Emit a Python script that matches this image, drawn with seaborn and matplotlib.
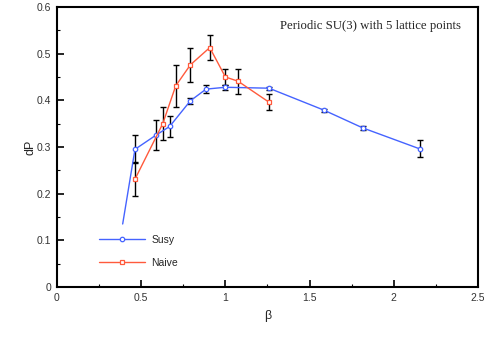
import matplotlib
matplotlib.use("Agg")
import matplotlib.pyplot as plt
import pandas as pd
import seaborn as sns
from matplotlib.ticker import MultipleLocator

# Susy series (first point has no marker / error bar)
susy_beta = [0.39, 0.463, 0.586, 0.669, 0.792, 0.885, 1.0, 1.259, 1.585, 1.815, 2.154]
susy_dp = [0.135, 0.295, 0.325, 0.344, 0.399, 0.424, 0.428, 0.426, 0.379, 0.341, 0.296]
susy_err = [0.0, 0.030, 0.032, 0.023, 0.007, 0.008, 0.005, 0.003, 0.003, 0.004, 0.018]

# Naive series
naive_beta = [0.463, 0.628, 0.705, 0.792, 0.907, 1.0, 1.075, 1.259]
naive_dp = [0.231, 0.350, 0.431, 0.476, 0.513, 0.450, 0.441, 0.396]
naive_err = [0.036, 0.036, 0.045, 0.036, 0.027, 0.018, 0.027, 0.017]

x_ticks = [0, 0.5, 1, 1.5, 2, 2.5]
x_labels = ["0", "0.5", "1", "1.5", "2", "2.5"]
y_ticks = [0, 0.1, 0.2, 0.3, 0.4, 0.5, 0.6]
y_labels = ["0", "0.1", "0.2", "0.3", "0.4", "0.5", "0.6"]

blue = "#4563ff"
red = "#ff5a3c"

sns.set_style("ticks")
plt.rcParams["font.family"] = ["Liberation Sans", "DejaVu Sans"]

fig = plt.figure(figsize=(4.85, 3.46), dpi=100)
ax = fig.add_axes([57 / 485, 1 - 287 / 346, 421 / 485, 280 / 346])

susy = pd.DataFrame({"beta": susy_beta, "dP": susy_dp})
naive = pd.DataFrame({"beta": naive_beta, "dP": naive_dp})

# error bars first, under the lines
ax.errorbar(susy_beta[1:], susy_dp[1:], yerr=susy_err[1:], fmt="none",
            ecolor="black", elinewidth=1, capsize=2, capthick=1, zorder=1)
ax.errorbar(naive_beta, naive_dp, yerr=naive_err, fmt="none",
            ecolor="black", elinewidth=1, capsize=2, capthick=1, zorder=1)

sns.lineplot(data=susy, x="beta", y="dP", ax=ax, color=blue, lw=1,
             marker="o", markersize=3.2, markerfacecolor="white",
             markeredgecolor=blue, markeredgewidth=0.9,
             markevery=list(range(1, len(susy_beta))), label="Susy",
             sort=False, zorder=2)
sns.lineplot(data=naive, x="beta", y="dP", ax=ax, color=red, lw=1,
             marker="s", markersize=3.2, markerfacecolor="white",
             markeredgecolor=red, markeredgewidth=0.9, label="Naive",
             sort=False, zorder=3)

ax.set_xlim(0, 2.5)
ax.set_ylim(0, 0.6)
ax.set_xticks(x_ticks, x_labels)
ax.set_yticks(y_ticks, y_labels)
ax.xaxis.set_minor_locator(MultipleLocator(0.25))
ax.yaxis.set_minor_locator(MultipleLocator(0.05))
ax.tick_params(which="both", direction="in", labelsize=7.5, width=1.2,
               pad=4, colors="black", labelcolor="#333333")
ax.tick_params(which="major", length=5)
ax.tick_params(which="minor", length=2.5, width=0.8)
for s in ax.spines.values():
    s.set_linewidth(1.5)
    s.set_color("black")

ax.set_xlabel("β", fontsize=9, labelpad=5)
ax.set_ylabel("dP", fontsize=9, labelpad=0)

ax.text(0.96, 0.933, "Periodic SU(3) with 5 lattice points",
        transform=ax.transAxes, ha="right", va="center", fontsize=9.2,
        family=["Liberation Serif", "DejaVu Serif"])

ax.legend(loc="lower left", bbox_to_anchor=(0.078, 0.034), frameon=False,
          fontsize=7.5, handlelength=4.4, labelspacing=1.3, handletextpad=0.6)

fig.savefig("out.png", dpi=100)
